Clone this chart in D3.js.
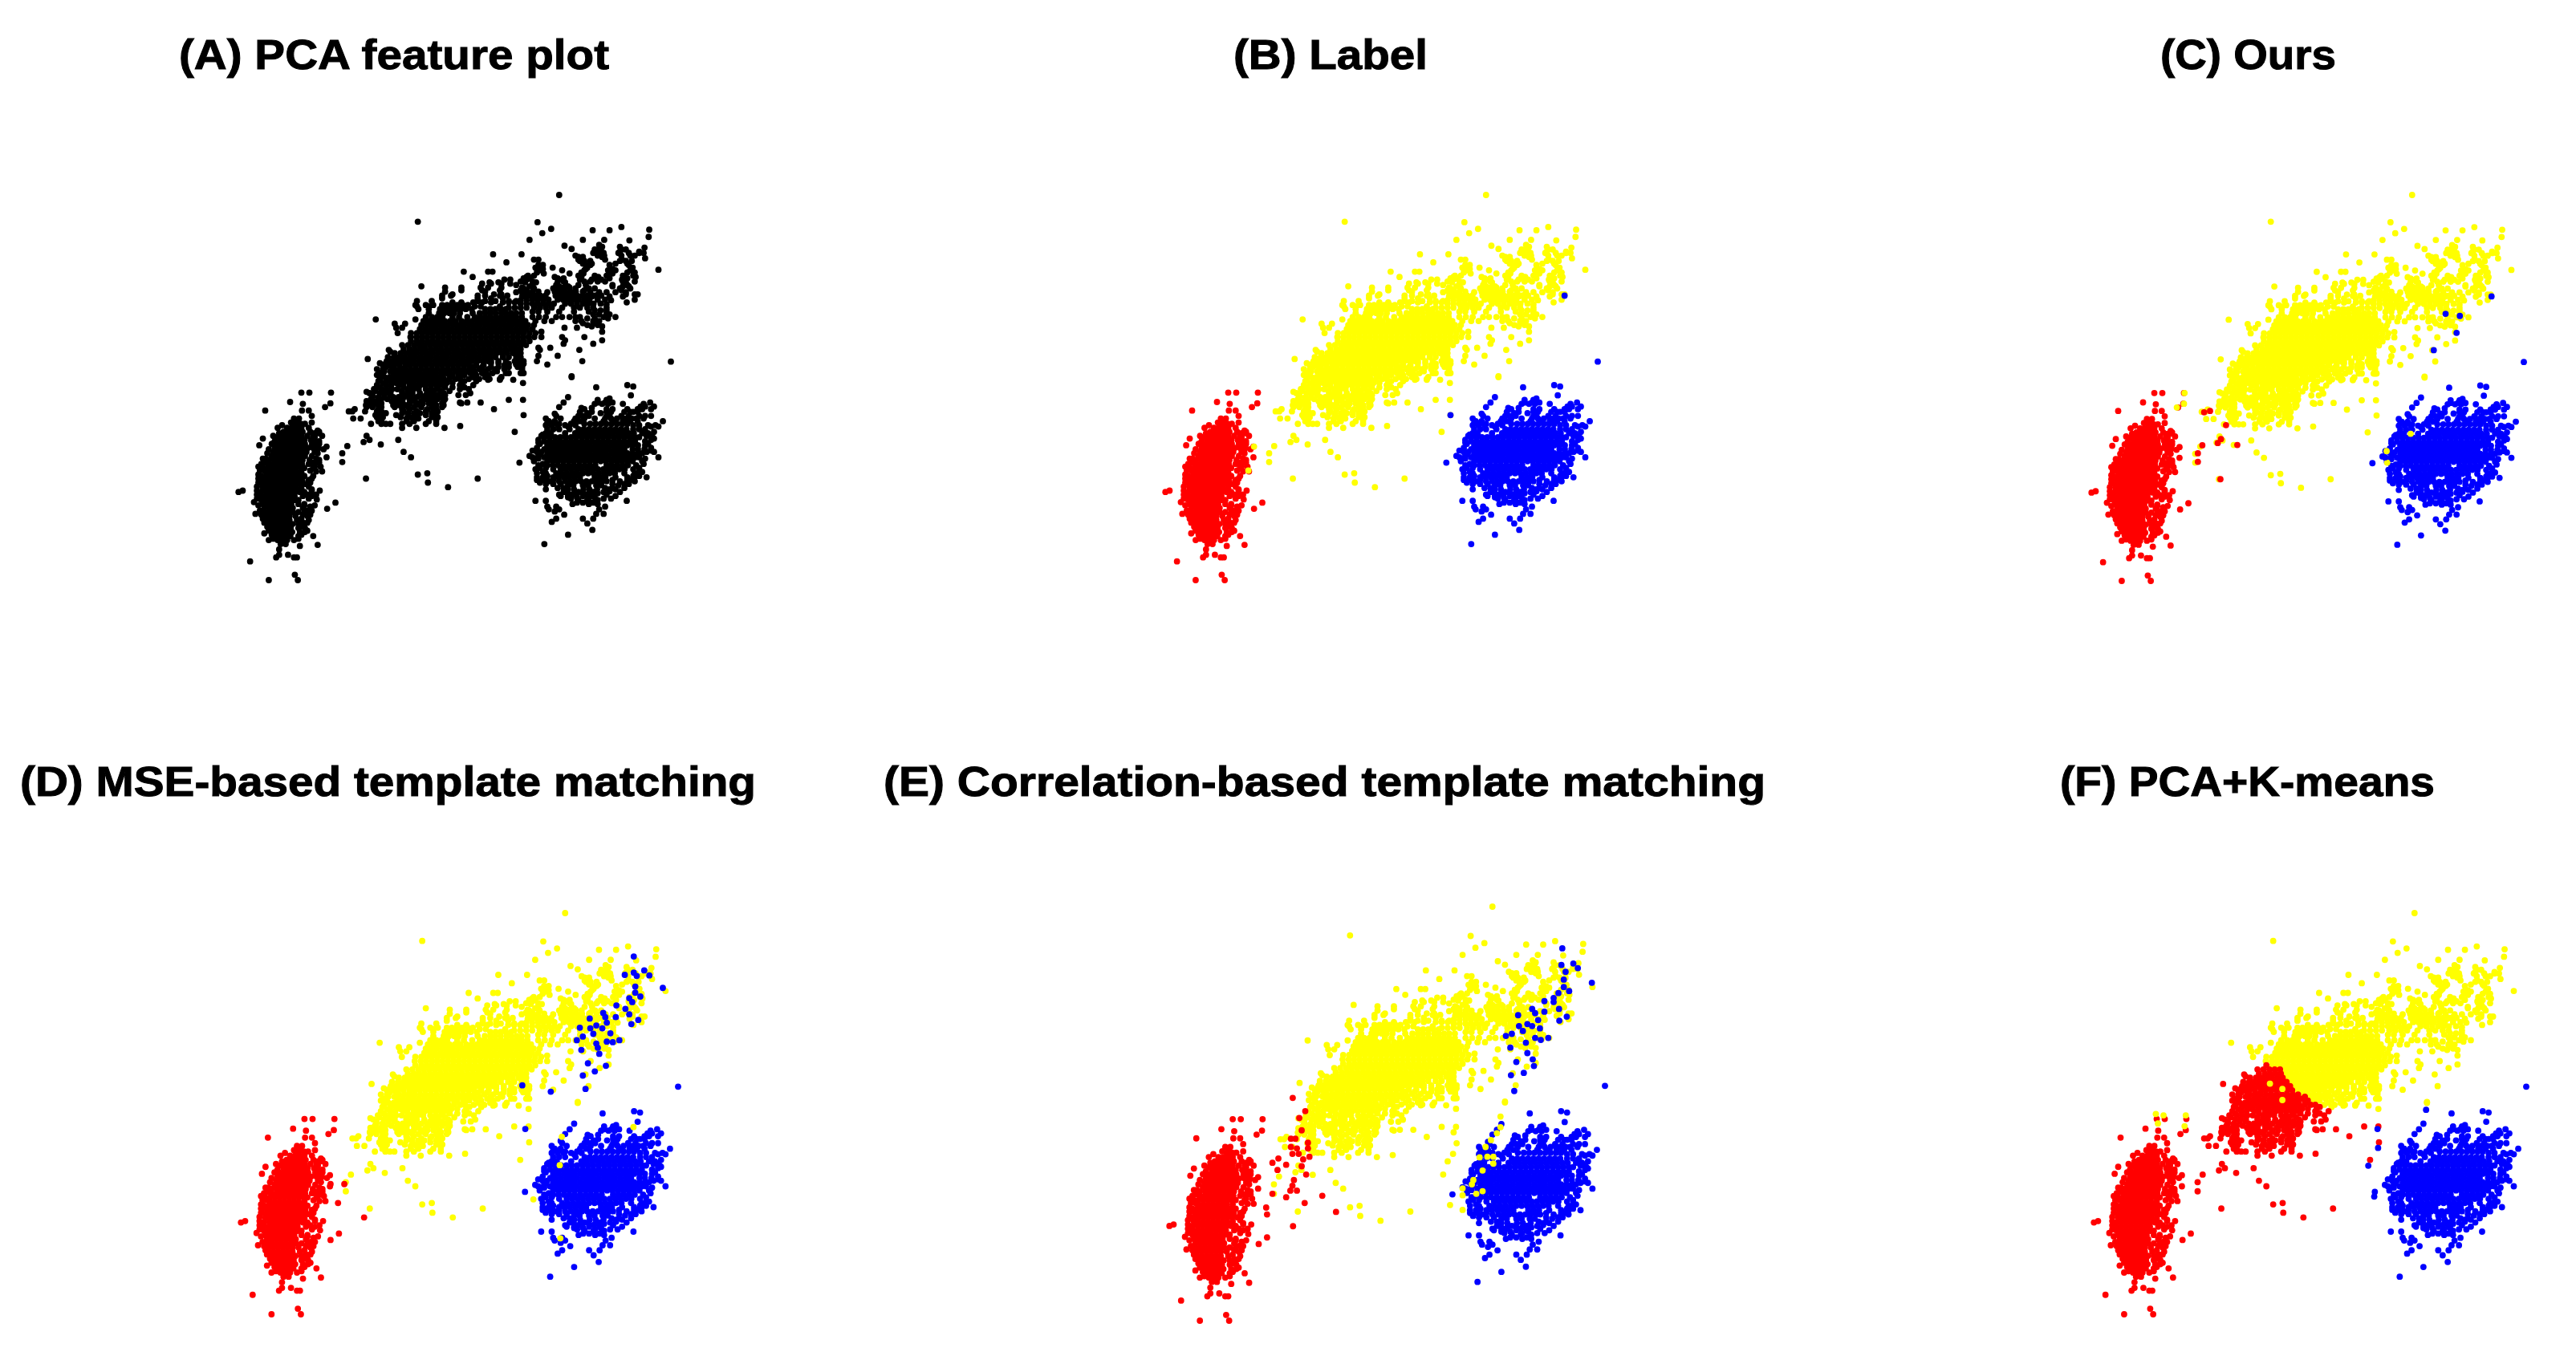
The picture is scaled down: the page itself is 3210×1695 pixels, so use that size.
<!DOCTYPE html>
<html><head><meta charset="utf-8">
<script src="https://cdn.jsdelivr.net/npm/d3@7"></script>
<style>html,body{margin:0;background:#fff}svg{display:block;filter:blur(0.6px)}</style>
</head><body><script>
// Each row: [PC2 value, then the PC1 values read at that height]. Units are arbitrary feature units.
const yellowRows = [
[68,1130],[168,653],[170,1057],[188,1340],[195,1103],[198,1434],[200,1243,1300],[211,1073],[225,1432],[236,1210,1282,1030],[238,1367],[258,1148],[265,1418],[270,1172,1265],
[280,1255,1272,1335,1400],[290,907,1003],[295,1260,1282,1185,1340,1370,1385],[305,1420],[310,1045,1060,1195,1285,1342],[320,952],[325,1210,1240,1320,1360],[340,1050,1108,1225,1378],[348,1465],[350,1065,1140,1215,1295,1320,1370],[355,808,890,905],[362,1078,1165,1212,1310,1382],[375,838,1020,1115,1205,1262,1350,1388],[385,945,965,1020,1140,1200,1240,1272,1342],[395,895,925,1015,1052,1150,1355],[410,665,1030,1130,1160,1310,1345,1365],
[415,1125,1145,1165],[425,800,870,930,1000,1020,1215,1340],[430,745,880,1040,1060,1115,1132,1150,1168,1186,1210],[440,770,910,935,1262,1355,1385,1395],[445,1030,1048,1066,1084,1118,1136,1154,1172,1190,1208,1226,1250,1272],[455,735,855,900,940],[460,1040,1058,1076,1094,1125,1143,1161,1178,1196,1215,1232,1260,1285,1385],[470,1358],
[475,1000,1020,1040,1058,1076,1094,1112,1150,1170,1190,1210,1228,1246,1270],[480,645,680,705,735,752,770,786,805,822],[490,960,980,1000,1020,1045,1065,1085,1105,1140,1180,1200,1225,1245,1290],[495,655,690,728,745,762,780,798,815,835,880,898,915,932,950],[505,1040,1060,1090,1130,1180,1230],
[510,690,725,742,760,775,795,838,862,880,897,915,935,950,968,985,1004,1290],[525,680,700,718,736,770,792,820,845,862,880,898,916,934,952,968,985,1004,1040,1062,1085,1120,1140,1165,1185,1200,1280,1320],[534,511,645],
[540,672,690,708,726,744,762,780,800,818,836,854,872,890,908,926,944,962,980,998,1016,1050,1080,1105,1185,1205,1245,1265],[550,575,610],
[555,665,683,701,719,737,755,773,791,809,827,845,863,881,899,917,935,953,971,989,1007,1025,1045,1225,1260],[565,580,600,1148,1190],
[570,660,678,696,714,732,750,768,786,804,822,840,858,876,894,912,930,948,966,984,1002,1020,1040],[580,1070,1275],[585,585,630],
[585,650,668,686,704,722,740,758,776,794,812,830,848,866,884,902,920,938,956,974,992,1010,1030,1050],[600,1070,1140,1215],
[600,628,648,666,684,702,720,738,756,774,792,810,828,846,864,882,900,918,936,954,972,990,1008,1026,1046],[612,1150,1275],
[615,630,650,668,686,704,722,740,758,776,794,812,830,848,866,884,902,920,938,956,974,992,1010,1030],[625,1145,1245],
[630,600,620,640,658,676,694,712,730,748,766,784,802,820,838,856,874,892,910,928,946,964,982,1000,1018],[640,1060,1100],[648,555,1065,1198],
[645,605,625,643,661,679,697,715,733,751,769,787,805,823,841,859,877,895,913,931,949,967,985,1000],[655,560],
[660,575,595,613,631,649,667,685,703,721,739,757,775,793,811,829,847,865,883,901,919,937,955,975],[670,1060,1125],
[675,552,572,590,608,626,644,662,680,698,716,734,752,770,788,806,824,842,860,878,896,940,960],[682,484],[690,995,1010,1055,1208],
[690,548,566,584,602,620,638,656,674,692,710,728,746,764,782,800,818,836,854,872,890,980],[703,985,1090],
[705,535,555,573,591,627,645,663,681,699,717,735,753,771,789,807,825,850,875,945],[720,1005,945,915],
[720,515,535,575,593,611,629,647,665,683,701,719,737,755,773,791,809,827,860,890],
[735,525,570,588,606,624,642,660,678,696,714,732,750,790,830,870,905,1005],[750,1172,935],
[750,540,558,576,594,612,630,648,666,684,702,720,738,760,795,840,880],[760,975,890,930],[772,1008],
[765,520,548,566,584,602,620,638,656,674,692,710,728,746,810,850],[780,515,545,563,590,625,643,661,679,697,715,733,795,840],
[795,505,530,548,566,584,620,638,656,680,698,716,795,825],[805,480],[810,490,525,543,561,600,635,660,685,705,740,830],[825,500,520,570,588,606,650,670,690,710,735],[835,960,1008],
[840,480,497,515,565,583,601,640,665,700,740],[845,795,820,865],[855,478,495,520,570,590,610,650,715,740],[870,440,520,600,625,685,715,910],[878,420,432,475,515,530,605,650,680,705,720],[892,510,530,580,620,650,680,715,1010],[905,435,460,520,615,635,655,715],[925,495,530,545,560,600,625,680,715],[940,648,600,743],[933,796],[955,980],
[747,1172],[970,480],[985,490,587],[993,470],[1002,528],[1008,415],[1030,605],[1035,398],[1050,630],[1068,398],[1110,685],[1115,653],[1130,478,855],[1145,687],[1162,755]
];
const yellowFill = [
[255,1265],[262,1275,1335],[272,1250,1340,1355],[285,1245,1280,1330,1365,1400,1415],[300,1195,1210,1275],[315,1200,1215,1235,1335,1355,1375],[330,1060,1075,1220,1235,1300,1365],[345,1055,1075,1220,1310,1375],[358,1055,1205,1300,1360,1385],[370,1025,1045,1195,1250,1290,1345,1380],[380,1010,1030,1125,1145,1250,1300,1360],[392,1000,1040,1125,1145,1215,1235,1260,1285,1345,1385],[405,985,1040,1120,1195,1220,1310,1360],[418,1010,1045,1110,1185,1230,1250,1335,1370],[432,985,1005,1020,1090,1235,1265,1290,1320,1355],[448,1005,1020,1240,1300,1345],[462,1000,1020,1305],[478,1290],[500,1250,1270,1290],[515,1245,1265,1300],[530,1225,1250,1295],[548,1210,1245],[560,1240,1275],
[400,900,935,965,870],[415,745,800,865,890,935,1005],[445,735,765,855,880,930,955],[465,650,700,855,880,915,960,985],[470,770,800,840,870,900,940,960,980],[485,650,690,845,865,930],
[698,525,545,590,610,900,925],[712,545,565,610,840,870,900,925],[728,540,560,760,780,800,820,845,880,920],[742,515,535,770,790,810,850,890],[757,525,740,760,780,795,825,860,895,930],[772,535,580,605,750,770,800],[788,525,605,640,720,745,770,810],[802,510,600,620,700,730,760],[817,500,540,560,615,630,660,680,700,720,745,790,815],[832,495,530,550,600,625,640,680,700,720,745],[848,510,530,580,600,625,650,670,690,710,735,800],[862,480,500,530,575,600,620,640,665,700,735],[885,520,545,600,620,640,660,700,715],[900,515,535,595,625,650,700,720],[915,520,530,615,640,690,715],
[660,990,1000],[700,1000,1010,960,985],[712,960,990,1005],[735,950,960,1000,1010],[690,900,925,950],[675,915,985,1000]
];
const redRows = [
[808,260,287,360],[843,222],[848,358],[850,265],[862,340],[875,138,262,285],[895,295],[905,235,252],[920,225,245,295],
[925,240,258,272],[930,195],[940,180,212,228,244,260,285],[950,315],[955,200,216,232,248,264,290,320],[970,165,195,212,228,244,260,280,300,330],[980,130],
[985,190,206,222,238,254,270,292],[1000,175,192,208,224,240,256,272,296],[1005,118,305],[1010,345],[1015,170,186,202,218,234,250,266,282,300,318],
[1030,165,181,197,213,229,245,261,277,305],[1045,160,176,192,208,224,240,256,272,296],[1050,345],[1060,150,168,184,200,216,232,248,264,288,320],
[1075,125,150,166,182,198,214,230,246,262,285,305],[1090,130,145,161,177,193,209,225,241,257,270,300],[1103,330,310],[1105,145,161,177,193,209,225,241,260],
[1115,115],[1120,125,140,156,172,188,204,220,236,252,270,300],[1135,135,151,167,183,199,215,231,247,263,285],[1150,130,146,162,178,194,210,226,242,258,275],[1160,130],
[1165,130,146,162,178,194,210,226,242,260],[1175,62,322],[1170,295],[1180,48,125,143,159,175,191,207,223,239,255,270],[1195,125,141,157,173,189,205,221,237,265,295],[1208,312],
[1210,125,141,157,173,189,205,221,237,250],[1218,100],[1220,375],[1225,130,146,162,178,194,210,226,250,270],[1235,290],[1240,135,151,167,183,199,215,231,265],[1243,347],
[1255,135,151,167,183,199,215,231,250,270],[1262,105],[1270,140,156,172,188,204,220,240,280],[1285,140,156,172,188,204,220,245,285],[1300,150,166,182,198,214,230,250,270],[1315,160,176,192,208,224,250,272],[1330,165,181,197,213,229,255,272],[1335,135],[1345,175,191,207,223,250,300],[1360,150,180,196,212,235],[1375,190,207],[1378,315],[1382,255],[1395,185],[1415,185,215],[1425,175,235,245],[1440,87],[1490,238],[1510,150,248]
];
const redFringe = [
[960,305,315,185],[975,305,180],[990,170,305,320],[1000,160,320],[1020,150,315,335],[1035,145,315],[1055,130,140,310],[1070,135,300,320],[1085,115,305,325],[1100,120,135,290],[1130,115,120,295],[1145,115,290],[1160,110,285],[1175,110,295],[1190,110,280,310],[1205,110,285],[1230,115,270,305],[1250,120,280,295],[1265,125,265,290],[1280,130,260],[1295,135,265,280],[1310,145,265],[1325,150,280],[1340,160,260],[1355,165,250]
];
const blueRows = [
[692,1507],[788,1255],[780,1360],[785,1380],[818,1372],[825,1160],[830,1300],[845,1145,1260,1285,1310,1437],[850,1345],[860,1405,1420,1450],[862,1130],[865,1205,1240],[880,1305,1380],[885,1270,1225],[887,1115],[895,1210,1290,1420,1440],
[905,1135,1250,1305,1355,1190,1375],[915,1480,1395,1320],[922,1090,1110],[925,1130,1170,1215,1235,1253,1271,1289,1307,1325,1343,1360],[935,1160,1440,1465],
[945,1090,1110,1130,1165,1195,1213,1231,1249,1267,1285,1303,1321,1339,1357,1380,1420],[955,1420,1450],[960,1085,1102,1150,1184,1202,1220,1238,1256,1274,1292,1310,1328,1346,1364,1382,1410],[965,1075],
[975,1080,1098,1116,1134,1152,1170,1188,1206,1224,1242,1260,1278,1296,1314,1332,1350,1368,1386,1400,1445],[980,1450],
[990,1080,1098,1116,1134,1152,1170,1188,1206,1224,1242,1260,1278,1296,1314,1332,1350,1368,1386,1420],[995,1060],
[1005,1090,1108,1126,1144,1162,1180,1198,1216,1234,1252,1270,1288,1306,1324,1342,1360,1378,1396,1420],
[1020,1080,1098,1116,1134,1152,1170,1188,1206,1224,1242,1260,1278,1296,1314,1332,1350,1378,1396,1418],[1025,1040,1440],
[1035,1090,1108,1126,1144,1162,1180,1198,1216,1234,1252,1270,1288,1306,1324,1342,1360,1378,1396,1410],[1045,1030,1060],[1050,1040,1080,1098,1116,1134,1152,1170,1188,1206,1224,1242,1260,1278,1296,1314,1332,1350,1368,1386,1400,1465],
[1065,1045,1090,1108,1126,1144,1162,1180,1198,1216,1234,1252,1270,1288,1306,1324,1342,1360,1378,1410],[1070,996],
[1080,1060,1090,1108,1126,1144,1162,1180,1198,1216,1234,1252,1290,1308,1326,1344,1362,1390],[1095,1050,1110,1135,1153,1171,1189,1207,1225,1243,1261,1279,1297,1315,1333,1351,1380],
[1110,1055,1085,1120,1138,1156,1174,1192,1210,1228,1246,1264,1282,1300,1318,1350,1385],[1125,1055,1075,1110,1128,1146,1164,1182,1200,1250,1268,1286,1320,1360,1385,1425],
[1140,1065,1095,1130,1150,1168,1186,1204,1222,1240,1258,1276,1290,1335,1385],[1155,1160,1178,1210,1228,1255,1272,1330],[1145,1065],[1170,1085,1160,1180,1212,1232,1258,1300,1320],[1177,1300],
[1185,1160,1180,1210,1230,1260],[1195,1135,1160,1210,1245,1320],[1200,1160,1190,1250],[1213,1050,1085,1358],[1220,1190,1210,1245],[1235,1120,1090,1285],[1253,1115],[1262,1255,1280],[1265,1147],[1292,1105],[1298,1225],[1322,1242],[1340,1160],[1375,1080]
];
const blueFringe = [
[835,1260,1290],[850,1250,1275,1295,1415],[870,1215,1290,1310,1360,1395,1410,1440],[880,1200,1240,1290,1350,1370,1395],[895,1120,1195,1230,1300,1340,1365,1400],[905,1085,1185,1215,1285,1325,1345,1390,1415],[915,1095,1115,1180,1200,1280,1345,1370],[930,1085,1105,1125,1150,1185,1380,1400,1430,1455],[945,1400],[960,1430],[970,1070,1425,1440],[985,1440,1060],[1000,1065,1430],[1015,1055,1440],[1030,1055,1070,1425,1450],[1040,1065],[1055,1050,1420,1060],[1075,1075,1415],[1090,1065,1085,1400],[1105,1075,1400,1410],[1120,1090,1380,1400],[1135,1055,1080,1110,1310,1360,1370],[1150,1085,1110,1135,1310,1350,1365],[1165,1125,1145,1285,1310,1350],[1180,1145,1195,1245,1280,1335],[1190,1130,1175,1225,1290],[1205,1170,1230,1280,1305],[1210,1195,1225,1260],[1225,1175,1230,1260],[1245,1095,1130,1265],[1280,1120,1245,1210]
];
const panelTitles = ["(A) PCA feature plot","(B) Label","(C) Ours","(D) MSE-based template matching","(E) Correlation-based template matching","(F) PCA+K-means"];

const bYellow = [[347,1010],[328,1100]];
const bBlue = [[1010,892],[1395,445]];
const cRed = [[428,880],[448,875],[502,928],[485,980],[474,995],[422,1003],[540,1002],[407,1033],[407,1065],[483,1130]];
const cBlue = [[1398,447],[1243,512],[1291,520],[1280,583],[1203,648],[1039,1048]];
const cYellow = [[1125,960],[1044,1025],[1046,1068],[362,808],[360,848],[336,862]];
const dBlue = [[1359,224],[1329,290],[1359,282],[1394,274],[1411,292],[1369,294],[1456,337],[1364,332],[1364,354],[1381,368],[1344,374],[1354,388],[1301,400],[1331,412],[1344,432],[1257,427],[1264,442],[1299,442],[1212,447],[1269,462],[1374,452],[1351,467],[1179,480],[1234,472],[1214,482],[1254,482],[1224,502],[1281,500],[1189,512],[1169,525],[1269,530],[1289,532],[1311,525],[1234,537],[1239,552],[1184,560],[1244,574],[1206,608],[1266,617],[1229,637],[1189,652],[987,687],[1082,710],[1198,700],[997,844]];
const dYellow = [[1112,974],[1358,837],[1119,872],[1024,1097],[1114,1237]];
const dRed = [[393,1042],[372,1110],[459,1162],[347,1042]];
const eBlue = [[1364,213],[1361,271],[1375,295],[1401,266],[1416,282],[1369,322],[1463,333],[1369,348],[1387,362],[1351,369],[1335,386],[1335,400],[1304,397],[1353,424],[1304,434],[1263,424],[1273,439],[1216,446],[1283,463],[1379,451],[1354,465],[1219,484],[1247,477],[1232,501],[1263,484],[1289,492],[1195,511],[1175,518],[1273,525],[1292,532],[1317,525],[1242,542],[1190,559],[1247,578],[1265,600],[1210,609],[1269,623],[1235,647],[1192,655],[1203,710]];
const eRed = [[461,734],[503,780],[483,804],[491,847],[455,876],[470,876],[512,890],[455,905],[475,910],[512,910],[460,929],[481,929],[517,939],[496,948],[413,945],[393,960],[439,967],[491,972],[410,985],[506,1001],[465,1020],[460,1040],[475,1057],[453,1057],[439,1080],[393,1068],[560,1075],[501,1100],[606,1131],[462,1181],[372,1116],[375,1140]];
const eYellow = [[1157,799],[1157,836],[1145,857],[1125,881],[1107,905],[1087,941],[1113,939],[1133,939],[1133,963],[1097,987],[1066,1020],[1061,1035],[1030,1049],[1030,1073],[1076,1068],[1097,1059],[988,1107],[1030,1124],[998,929],[1000,854],[965,1001]];
const fYellow = [[257,790],[283,795],[358,795],[264,824],[354,834],[642,681],[684,700],[684,740]];
const fBlue = [[1005,844],[1007,912],[974,976],[994,1087],[1169,775]];
const fRedRegion = [[350,500],[565,591],[684,631],[694,671],[787,750],[870,780],[950,800],[1040,800],[1040,1200],[350,1200]];

const width = 3210, height = 1695;
const classColor = {red:"#ff0000", yellow:"#ffff00", blue:"#0000ff"};
const expand = rows => rows.flatMap(([v,...us]) => us.map(u => [u,v]));
const base = {red:expand(redRows.concat(redFringe)), yellow:expand(yellowRows.concat(yellowFill)), blue:expand(blueRows.concat(blueFringe))};

const panels = [
 {title:0, tx:[223,759], ty:86,  xr:[298,836],  yr:[243,723],  black:true, extra:{}},
 {title:1, tx:[1537,1779], ty:86, xr:[1453,1991], yr:[243,723], extra:{yellow:bYellow, blue:bBlue}},
 {title:2, tx:[2692,2911], ty:86, xr:[2607,3145], yr:[243,724], extra:{red:cRed, blue:cBlue, yellow:cYellow}},
 {title:3, tx:[25,942], ty:992, xr:[301,845], yr:[1138,1638], extra:{blue:dBlue, yellow:dYellow, red:dRed}},
 {title:4, tx:[1101,2200], ty:992, xr:[1458,2000], yr:[1130,1646], extra:{blue:eBlue, red:eRed, yellow:eYellow}},
 {title:5, tx:[2567,3034], ty:992, xr:[2610,3148], yr:[1138,1638], region:fRedRegion, extra:{yellow:fYellow, blue:fBlue}}
];

const svg = d3.select("body").append("svg").attr("width",width).attr("height",height).attr("viewBox",[0,0,width,height]);
svg.append("rect").attr("width",width).attr("height",height).attr("fill","#fff");

panels.forEach(p => {
  const x = d3.scaleLinear().domain([50,1507]).range(p.xr);
  const y = d3.scaleLinear().domain([68,1510]).range(p.yr);
  let yellow = base.yellow, red = base.red;
  if (p.region) {
    red = red.concat(yellow.filter(d => d3.polygonContains(p.region,d)));
    yellow = yellow.filter(d => !d3.polygonContains(p.region,d));
  }
  const layers = [["yellow",yellow],["red",red],["blue",base.blue],["yellow",p.extra.yellow||[]],["red",p.extra.red||[]],["blue",p.extra.blue||[]]];
  const g = svg.append("g");
  layers.forEach(([cls,pts]) => {
    g.append("g").attr("fill", p.black ? "#000" : classColor[cls])
     .selectAll("circle").data(pts).join("circle")
     .attr("cx",d=>x(d[0])).attr("cy",d=>y(d[1])).attr("r",3.9);
  });
  svg.append("text").text(panelTitles[p.title])
    .attr("x",p.tx[0]).attr("y",p.ty)
    .attr("textLength",p.tx[1]-p.tx[0]).attr("lengthAdjust","spacingAndGlyphs")
    .attr("font-family","'Liberation Sans',Arial,sans-serif").attr("font-weight",700).attr("font-size",52)
    .attr("fill","#000").attr("stroke","#000").attr("stroke-width",1);
});
</script></body></html>
